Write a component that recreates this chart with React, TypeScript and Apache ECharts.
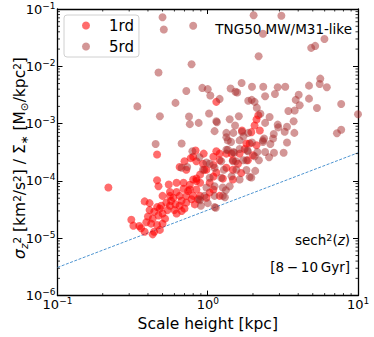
import { useEffect, useRef } from "react";
import * as echarts from "echarts";

const FONT = "DejaVu Sans";

const xMin = 0.1;
const xMax = 10;
const yMin = 1e-6;
const yMax = 1e-1;

const seriesNames = ["1rd", "5rd"];

const red1rdPoints: [number, number][] = [
  [0.218, 7.7e-5], [1.14, 2.4e-3], [2.17, 1.4e-3], [2.11, 1.18e-3], [2.22, 7.6e-4], [2.05, 9.3e-4],
  [1.9, 4.5e-4], [2.11, 4.2e-4], [1.69, 7.6e-4], [0.46, 1.03e-4], [0.47, 8.1e-5], [0.55, 8.7e-5],
  [0.65, 1.75e-4], [0.56, 6.4e-5], [0.62, 6.4e-5], [0.69, 7.3e-5], [0.76, 7.1e-5], [0.84, 1.0e-4],
  [0.8, 5.5e-5], [0.38, 4.4e-5], [0.41, 4.1e-5], [0.46, 3.5e-5], [0.49, 3.7e-5], [0.53, 4.2e-5],
  [0.57, 4.5e-5], [0.61, 3.9e-5], [0.65, 3.7e-5], [0.7, 3.3e-5], [0.72, 4.2e-5], [0.67, 3.0e-5],
  [0.6, 3.1e-5], [0.54, 3.1e-5], [0.5, 2.7e-5], [0.47, 2.5e-5], [0.43, 2.2e-5], [0.4, 2.4e-5],
  [0.39, 1.9e-5], [0.42, 1.8e-5], [0.46, 1.7e-5], [0.5, 1.8e-5], [0.52, 2.2e-5], [0.31, 2.1e-5],
  [0.32, 1.66e-5], [0.35, 1.64e-5], [0.36, 1.5e-5], [0.38, 1.3e-5], [0.43, 1.17e-5], [0.44, 1.3e-5],
  [0.48, 1.4e-5], [0.56, 3.7e-5], [0.59, 5.1e-5], [0.82, 3.9e-5], [0.86, 4.8e-5], [0.46, 2.9e-4],
  [0.83, 3.4e-4], [0.7, 2.2e-4], [0.77, 2.5e-4], [0.8, 2.65e-4], [0.69, 9.3e-5], [0.76, 8.6e-5],
  [0.84, 1.1e-4], [0.89, 9.3e-5], [0.94, 3.0e-4], [1.14, 3.3e-4], [0.84, 2.2e-4], [0.89, 1.3e-4],
  [0.8, 1.06e-4], [0.84, 7.1e-5], [0.78, 4.8e-5], [0.95, 1.57e-4], [1.09, 2.65e-4], [1.2, 3.0e-4],
  [1.76, 3.6e-4], [1.2, 2.3e-4], [1.09, 1.2e-4], [1.26, 1.1e-4], [1.47, 1.06e-4], [0.93, 2.0e-4],
  [1.03, 6.3e-5], [0.98, 5.1e-5], [0.72, 5.5e-5], [0.65, 5.5e-5], [0.62, 9.3e-5], [0.72, 1.57e-4],
  [0.89, 5.5e-5], [1.09, 7.1e-5], [1.33, 3.0e-4], [1.47, 2.3e-4], [1.59, 2.0e-4], [1.63, 3.0e-4],
  [1.85, 2.3e-4], [2.0, 2.8e-4], [1.81, 4.5e-4], [1.33, 1.7e-4], [1.14, 1.4e-4], [1.03, 9.3e-5],
  [1.2, 5.5e-5], [1.47, 1.57e-4], [1.67, 1.38e-4], [0.41, 3.1e-5], [0.44, 2.9e-5], [0.56, 5.5e-5],
  [0.5, 5.5e-5], [0.48, 3.3e-5], [0.62, 2.7e-5], [0.67, 4.5e-5], [0.74, 6.7e-5], [0.98, 1.57e-4],
  [1.09, 1.9e-4], [1.44, 3.0e-4], [1.95, 7.1e-4],
];

const brown5rdPoints: [number, number][] = [
  [0.5, 0.072], [0.51, 0.044], [0.8, 0.051], [2.02, 0.078], [3.09, 0.076], [2.33, 0.037],
  [5.98, 0.03], [4.88, 0.021], [5.19, 0.0227], [2.18, 0.015], [0.78, 0.0109], [0.47, 0.0078],
  [5.61, 0.0061], [5.56, 0.0049], [6.2, 0.0043], [4.72, 0.0046], [0.34, 0.002], [0.61, 0.0023],
  [0.48, 0.00135], [7.73, 0.0022], [7.24, 0.00068], [7.73, 0.00078], [10.0, 0.00146], [5.33, 0.00187],
  [4.72, 0.00273], [4.09, 0.0021], [4.03, 0.0032], [3.85, 0.0026], [3.79, 0.0017], [3.44, 0.00166],
  [3.28, 0.0044], [2.92, 0.0043], [2.8, 0.0033], [2.41, 0.003], [2.34, 0.0044], [1.97, 0.0044],
  [1.68, 0.0051], [1.96, 0.0026], [2.05, 0.0024], [1.42, 0.0041], [1.53, 0.0036], [1.57, 0.0035],
  [1.2, 0.0027], [0.92, 0.0042], [1.0, 0.004], [1.04, 0.0031], [0.72, 0.0037], [1.02, 0.0015],
  [1.15, 0.00106], [1.14, 0.0011], [0.75, 0.00133], [0.76, 0.00098], [0.87, 0.00103], [0.67, 0.00045],
  [0.45, 0.00044], [1.52, 0.00093], [1.61, 0.00135], [1.86, 0.0025], [2.12, 0.0019], [2.24, 0.00149],
  [2.41, 0.00103], [2.92, 0.00096], [3.25, 0.00072], [3.73, 0.0011], [3.77, 0.00069], [3.37, 0.00047],
  [3.2, 0.00031], [2.76, 0.00031], [2.41, 0.00032], [2.61, 0.00044], [2.33, 0.00051], [2.72, 0.00055],
  [2.56, 0.00026], [2.19, 0.00023], [2.05, 0.00027], [2.14, 0.00032], [1.97, 0.00047], [1.86, 0.00069],
  [1.69, 0.00072], [1.73, 0.0006], [1.48, 0.00069], [1.36, 0.00051], [1.33, 0.00069], [1.63, 0.00036],
  [1.48, 0.00032], [1.85, 0.00033], [1.54, 0.00022], [1.81, 0.00023], [2.07, 0.00015], [0.67, 0.00017],
  [0.79, 0.00033], [0.88, 0.00026], [0.98, 0.00021], [1.13, 3.4e-5], [0.9, 3.7e-5], [0.88, 4.8e-5],
  [1.3, 5.2e-5], [1.32, 6.9e-5], [1.33, 3.5e-4], [1.5, 3.1e-4], [1.83, 3.4e-4], [1.72, 2.3e-4],
  [1.47, 2.2e-4], [1.23, 2.2e-4], [1.03, 2.0e-4], [0.93, 1.57e-4], [1.11, 1.7e-4], [1.28, 1.57e-4],
  [1.55, 1.57e-4], [1.81, 1.55e-4], [1.9, 1.18e-4], [1.63, 1.06e-4], [1.44, 1.21e-4], [1.23, 1.14e-4],
  [1.03, 1.14e-4], [0.98, 7.7e-5], [1.11, 8.1e-5], [1.26, 7.7e-5], [1.4, 8.1e-5], [0.95, 5.5e-5],
  [1.11, 5.5e-5], [1.26, 5.5e-5], [0.89, 4.6e-5], [1.0, 4.1e-5], [1.11, 3.5e-5], [0.73, 1.75e-4],
  [1.4, 1.19e-3], [2.58, 1.31e-3], [1.11, 7.4e-4], [2.37, 5.5e-4], [2.75, 6.6e-4], [2.95, 8.6e-4],
  [3.37, 8.8e-4], [1.33, 5.8e-4], [1.43, 4.8e-4], [1.63, 5.1e-4], [2.33, 4.8e-4], [1.36, 3.5e-4],
  [1.95, 1.15e-4],
];

const refLineX = [0.1, 10];
const refLineY = [3.1e-6, 3.1e-4];

const xMinorTicks = [0.2, 0.3, 0.4, 0.5, 0.6, 0.7, 0.8, 0.9, 2, 3, 4, 5, 6, 7, 8, 9];
const yMinorTicks = [
  2e-6, 3e-6, 4e-6, 5e-6, 6e-6, 7e-6, 8e-6, 9e-6,
  2e-5, 3e-5, 4e-5, 5e-5, 6e-5, 7e-5, 8e-5, 9e-5,
  2e-4, 3e-4, 4e-4, 5e-4, 6e-4, 7e-4, 8e-4, 9e-4,
  2e-3, 3e-3, 4e-3, 5e-3, 6e-3, 7e-3, 8e-3, 9e-3,
  2e-2, 3e-2, 4e-2, 5e-2, 6e-2, 7e-2, 8e-2, 9e-2,
];

const RED = "rgba(255,0,0,0.72)";
const BROWN = "rgba(165,42,42,0.62)";

const powLabel = (v: number) => {
  const e = Math.round(Math.log10(v));
  const s = e < 0 ? "\u2212" + -e : String(e);
  return `{b|10}{s|${s}}`;
};

const labelRich = {
  b: { fontFamily: FONT, fontSize: 13, lineHeight: 16, color: "#000" },
  s: { fontFamily: FONT, fontSize: 9, lineHeight: 9, verticalAlign: "top", color: "#000" },
};

export default function App() {
  const ref = useRef<HTMLDivElement>(null);
  useEffect(() => {
    document.body.style.margin = "0";
    if (!ref.current) return;
    const chart = echarts.init(ref.current, undefined, { renderer: "svg" });
    const axisLine = { show: true, lineStyle: { color: "#000", width: 1.3 } };
    const tick = { show: true, inside: true, length: 5, lineStyle: { color: "#000", width: 1 } };
    const option: any = {
      animation: false,
      backgroundColor: "#fff",
      textStyle: { fontFamily: FONT },
      grid: { left: 57.5, right: 16, top: 9, bottom: 35 },
      legend: {
        data: seriesNames,
        orient: "vertical",
        left: 64,
        top: 15,
        icon: "circle",
        itemWidth: 8,
        itemHeight: 8,
        itemGap: 6,
        padding: [3, 5, 3, 18],
        borderColor: "#d0d0d0",
        borderWidth: 1,
        borderRadius: 3,
        textStyle: { fontFamily: FONT, fontSize: 15, color: "#000", lineHeight: 15, padding: [0, 0, 0, 14] },
      },
      xAxis: [
        {
          type: "log",
          min: xMin,
          max: xMax,
          logBase: 10,
          axisLine,
          axisTick: tick,
          splitLine: { show: false },
          axisLabel: { formatter: powLabel, rich: labelRich, margin: 1, showMinLabel: true, showMaxLabel: true },
          name: "Scale height [kpc]",
          nameLocation: "middle",
          nameGap: 14,
          nameTextStyle: { fontFamily: FONT, fontSize: 15.5, color: "#000", verticalAlign: "top" },
        },
        {
          type: "log",
          position: "top",
          min: xMin,
          max: xMax,
          logBase: 10,
          axisLine,
          axisTick: tick,
          axisLabel: { show: false },
          splitLine: { show: false },
        },
      ],
      yAxis: [
        {
          type: "log",
          min: yMin,
          max: yMax,
          logBase: 10,
          axisLine,
          axisTick: tick,
          splitLine: { show: false },
          axisLabel: { formatter: powLabel, rich: labelRich, margin: 2, showMinLabel: true, showMaxLabel: true },
        },
        {
          type: "log",
          position: "right",
          min: yMin,
          max: yMax,
          logBase: 10,
          axisLine,
          axisTick: tick,
          axisLabel: { show: false },
          splitLine: { show: false },
        },
      ],
      series: [
        {
          name: "ref",
          type: "line",
          data: refLineX.map((x, i) => [x, refLineY[i]]),
          symbol: "none",
          silent: true,
          lineStyle: { color: "#4f95d1", width: 1, type: [3, 1.5] },
          z: 1,
        },
        {
          name: seriesNames[0],
          type: "scatter",
          data: red1rdPoints,
          symbolSize: 8,
          itemStyle: { color: RED },
          z: 2,
        },
        {
          name: seriesNames[1],
          type: "scatter",
          data: brown5rdPoints,
          symbolSize: 8,
          itemStyle: { color: BROWN },
          z: 3,
        },
        {
          name: "xminor",
          type: "custom",
          silent: true,
          clip: false,
          data: xMinorTicks.map((v) => [v, yMin]),
          renderItem: (_p: any, api: any) => {
            const v = api.value(0);
            const b = api.coord([v, yMin]);
            const t = api.coord([v, yMax]);
            const st = { stroke: "#000", lineWidth: 0.8 };
            return {
              type: "group",
              children: [
                { type: "line", shape: { x1: b[0], y1: b[1], x2: b[0], y2: b[1] - 2.5 }, style: st },
                { type: "line", shape: { x1: t[0], y1: t[1], x2: t[0], y2: t[1] + 2.5 }, style: st },
              ],
            };
          },
          z: 5,
        },
        {
          name: "yminor",
          type: "custom",
          silent: true,
          clip: false,
          data: yMinorTicks.map((v) => [xMin, v]),
          renderItem: (_p: any, api: any) => {
            const v = api.value(1);
            const l = api.coord([xMin, v]);
            const r = api.coord([xMax, v]);
            const st = { stroke: "#000", lineWidth: 0.8 };
            return {
              type: "group",
              children: [
                { type: "line", shape: { x1: l[0], y1: l[1], x2: l[0] + 2.5, y2: l[1] }, style: st },
                { type: "line", shape: { x1: r[0], y1: r[1], x2: r[0] - 2.5, y2: r[1] }, style: st },
              ],
            };
          },
          z: 5,
        },
      ],
      graphic: [
        {
          type: "text",
          x: 20,
          y: 158,
          rotation: Math.PI / 2,
          style: {
            text:
              "{i|σ}{sub|z}{sup|2}{t| [km}{sup|2}{t|/s}{sup|2}{t|] / Σ}{sub|∗}{t| [M}{sub|⊙}{t|/kpc}{sup|2}{t|]}",
            align: "center",
            verticalAlign: "middle",
            rich: {
              t: { fontFamily: FONT, fontSize: 15.5, lineHeight: 18, fill: "#000" },
              i: { fontFamily: FONT, fontSize: 15.5, lineHeight: 18, fontStyle: "italic", fill: "#000" },
              sup: { fontFamily: FONT, fontSize: 10.5, lineHeight: 10, verticalAlign: "top", fill: "#000" },
              sub: { fontFamily: FONT, fontSize: 10.5, lineHeight: 10, verticalAlign: "bottom", fontStyle: "italic", fill: "#000" },
            },
          },
        },
        {
          type: "text",
          x: 352,
          y: 29,
          style: {
            text: "TNG50 MW/M31-like",
            font: `13.5px "${FONT}"`,
            fill: "#000",
            align: "right",
            verticalAlign: "middle",
          },
        },
        {
          type: "text",
          x: 350,
          y: 240,
          style: {
            text: "{t|sech}{s|2}{t|(}{i|z}{t|)}",
            align: "right",
            verticalAlign: "middle",
            rich: {
              t: { fontFamily: FONT, fontSize: 13.5, lineHeight: 16, fill: "#000" },
              i: { fontFamily: FONT, fontSize: 13.5, lineHeight: 16, fontStyle: "italic", fill: "#000" },
              s: { fontFamily: FONT, fontSize: 9.5, lineHeight: 9, verticalAlign: "top", fill: "#000" },
            },
          },
        },
        {
          type: "text",
          x: 350,
          y: 267,
          style: {
            text: "[8\u2009\u2212\u200910\u2009Gyr]",
            font: `13.5px "${FONT}"`,
            fill: "#000",
            align: "right",
            verticalAlign: "middle",
          },
        },
      ],
    };
    chart.setOption(option);
    return () => chart.dispose();
  }, []);
  return <div ref={ref} style={{ width: 374, height: 337 }} />;
}
